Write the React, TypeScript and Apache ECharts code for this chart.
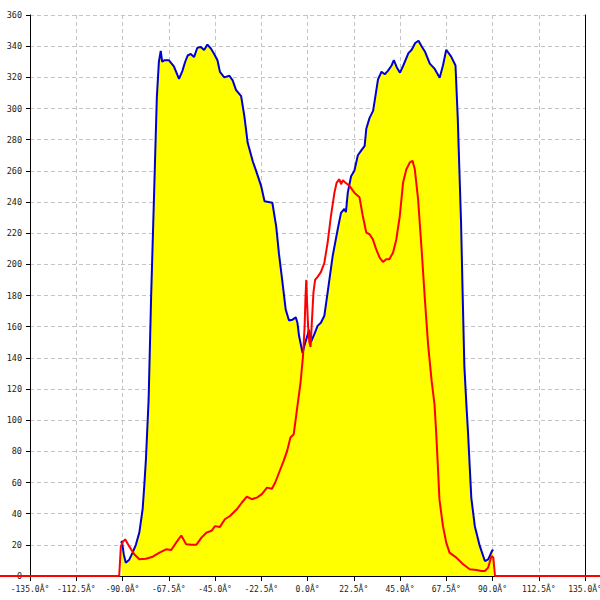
import React, { useEffect, useRef } from "react";
import * as echarts from "echarts";

const xTickLabels = [
  "-135.0Â°", "-112.5Â°", "-90.0Â°", "-67.5Â°", "-45.0Â°", "-22.5Â°", "0.0Â°",
  "22.5Â°", "45.0Â°", "67.5Â°", "90.0Â°", "112.5Â°", "135.0Â°",
];

const blueAngles = [
  -90.6, -90.3, -89.4, -88.4, -86.7, -85.1, -83.5, -81.8, -80.2, -79.4, -78.6, -77.3,
  -76.1, -74.7, -73.3, -72.3, -71.4, -70.7, -69.5, -67.5, -65, -62.5, -60.9, -59.5,
  -58.3, -56.8, -55.2, -53.6, -51.9, -50.3, -48.7, -47, -45.4, -43.8, -42.6, -40.5,
  -38, -36.4, -34.8, -32.3, -30.7, -29.1, -26.6, -25, -22.5, -20.9, -19, -17.1,
  -15.2, -13.9, -12.5, -10.6, -9, -7.3, -5.7, -4.9, -4.1, -2.4, -1.6, 0.8,
  1.6, 3.3, 4.9, 6.5, 8.2, 9.8, 12.2, 14.7, 16.3, 17.9, 18.7, 19.6,
  21.2, 22.8, 24.5, 26.1, 27.8, 28.6, 30.2, 31.9, 32.7, 34.3, 36, 37.6,
  39.2, 40.9, 42, 43.4, 45, 46.6, 49.1, 50.7, 52.4, 54, 55.5, 57.1,
  59.5, 61.9, 64.3, 65.9, 67.5, 69.9, 72, 73.1, 73.9, 74.7, 75.5, 76.3,
  77.3, 78.1, 78.9, 79.7, 81.4, 83.8, 86.3, 87.9, 90, 90.3,
];
const blueValues = [
  21, 22.5, 14, 8.5, 10.5, 15, 20, 28, 43, 58, 75, 113,
  178, 242, 307, 330, 337, 330, 331, 331, 327, 319, 324, 330,
  334, 335, 333, 339, 339.5, 337.5, 341, 338.5, 335, 331, 323.5, 320,
  321, 318, 312, 308, 295, 278, 266, 260, 250, 240.5, 240, 239.5,
  224, 207, 192, 171, 164, 164.5, 166, 162.5, 154, 143, 147.5, 158,
  150, 155, 160.5, 162.5, 167, 182, 205, 222.5, 233, 235.5, 233.5, 246,
  256.5, 260, 270, 273, 276, 287, 294, 298.5, 305, 318.7, 323.6, 322,
  324.3, 327.6, 331, 326.5, 323, 327.6, 335.5, 337.7, 342, 343.5, 340, 336.6,
  328.8, 325.4, 319.8, 327.6, 337.7, 333.3, 327.6, 294, 260, 227, 180, 135,
  110, 92, 70.7, 50, 32, 19.3, 9.6, 10.7, 16.7, 16,
];

const redAngles = [
  -150, -91.6, -90.8, -89.8, -88.7, -86.7, -84.3, -81.8, -78.6, -75.3, -72, -68.8,
  -66.3, -63.9, -61.4, -59, -56.5, -54.1, -51.6, -49.2, -46.7, -45, -42.6, -40.2,
  -37.7, -34.4, -32, -29.5, -27.1, -24.6, -22.2, -19.7, -17.3, -15.7, -13.2, -11.6,
  -9.9, -8.3, -6.7, -5, -3.4, -2.2, -1.4, -1, -0.6, -0.2, 0.3, 0.9,
  1.5, 2.2, 2.9, 3.7, 4.9, 6.5, 8.2, 9.8, 11.4, 13.1, 14.2, 15.5,
  16.3, 17.2, 17.9, 20.4, 22.8, 25.3, 26.9, 28.6, 30.2, 31.8, 33.4, 35.1,
  36.7, 38.3, 39.8, 41.6, 43.2, 44.9, 46.5, 48.1, 49.8, 51.1, 52.2, 53.8,
  55.5, 57.1, 58.7, 60.4, 61.8, 62.6, 63.4, 64.2, 65.9, 67.5, 69.1, 72.4,
  75.7, 78.9, 82.2, 84.6, 86.3, 87.9, 89.5, 90.4, 91.2, 150,
];
const redValues = [
  0, 0, 19, 22, 23.5, 19, 14, 10.7, 11.1, 12.4, 15, 17.1,
  16.7, 21.4, 26, 20.3, 20, 20, 24.6, 27.8, 29, 32, 31.5, 36.4,
  38.5, 42.8, 47, 51, 49.3, 50.3, 52.5, 56.7, 56, 60, 68.5, 73.9,
  80.3, 88.9, 91, 108, 124, 141, 160, 178, 190, 175, 160, 150,
  147, 165, 182, 190, 192, 195, 201, 214, 231, 246, 252.5, 254.6,
  251.4, 254, 253, 250.4, 246, 243, 231, 220.4, 219.3, 216, 209.7, 204.3,
  201.5, 203.3, 203.3, 207.5, 216, 231, 252.5, 261, 265.4, 266.4, 261, 241.8,
  209.7, 177.6, 148, 125, 110, 92, 71, 49, 32, 21.4, 15, 11.8,
  7.5, 4.3, 3.9, 3.2, 3.2, 5.4, 12.8, 11.8, 0, 0,
];

// plot area geometry
const PLOT_LEFT = 30;
const PLOT_TOP = 15;
const PLOT_W = 555;
const PLOT_H = 561;
const X_MIN = -135;
const X_MAX = 135;
const PX_PER_DEG = PLOT_W / (X_MAX - X_MIN);

export default function App() {
  const ref = useRef<HTMLDivElement>(null);
  useEffect(() => {
    document.body.style.margin = "0";
    if (!ref.current) return;
    const chart = echarts.init(ref.current, undefined, { renderer: "svg", width: 600, height: 600 });
    const font = "DejaVu Sans Mono";
    // full-width grid for the red trace (it runs past the plot frame to both page edges)
    const fullMin = X_MIN - PLOT_LEFT / PX_PER_DEG;
    const fullMax = X_MAX + (600 - PLOT_LEFT - PLOT_W) / PX_PER_DEG;
    chart.setOption({
      animation: false,
      backgroundColor: "#ffffff",
      grid: [
        { left: PLOT_LEFT, top: PLOT_TOP, width: PLOT_W, height: PLOT_H, containLabel: false, outerBoundsMode: "none" },
        { left: 0, top: PLOT_TOP, width: 600, height: PLOT_H, containLabel: false, outerBoundsMode: "none" },
      ],
      xAxis: [
        {
          type: "value",
          gridIndex: 0,
          min: X_MIN,
          max: X_MAX,
          interval: 22.5,
          axisLine: { show: true, onZero: false, lineStyle: { color: "#000", width: 1 } },
          axisTick: { show: true, length: 5, lineStyle: { color: "#000" } },
          axisLabel: {
            color: "#222",
            fontFamily: font,
            fontSize: 8,
            margin: 9,
            showMinLabel: true,
            showMaxLabel: true,
            hideOverlap: false,
            formatter: (v: number) => xTickLabels[Math.round((v - X_MIN) / 22.5)] ?? "",
          },
          splitLine: { show: true, lineStyle: { color: "#c4c4c4", type: [4, 3], width: 1 } },
        },
        {
          type: "value",
          gridIndex: 1,
          min: fullMin,
          max: fullMax,
          show: false,
          splitLine: { show: false },
        },
      ],
      yAxis: [
        {
          type: "value",
          gridIndex: 0,
          min: 0,
          max: 360,
          interval: 20,
          axisLine: { show: true, onZero: false, lineStyle: { color: "#000", width: 1 } },
          axisTick: { show: true, length: 4, lineStyle: { color: "#000" } },
          axisLabel: { color: "#222", fontFamily: font, fontSize: 8.5, margin: 8 },
          splitLine: { show: true, lineStyle: { color: "#c4c4c4", type: [4, 3], width: 1 } },
        },
        {
          type: "value",
          gridIndex: 0,
          min: 0,
          max: 360,
          interval: 20,
          position: "right",
          axisLine: { show: true, onZero: false, lineStyle: { color: "#000", width: 1 } },
          axisTick: { show: false },
          axisLabel: { show: false },
          splitLine: { show: false },
        },
        {
          type: "value",
          gridIndex: 1,
          min: 0,
          max: 360,
          show: false,
          splitLine: { show: false },
        },
      ],
      series: [
        {
          type: "line",
          xAxisIndex: 0,
          yAxisIndex: 0,
          data: blueAngles.map((a, i) => [a, blueValues[i]]),
          showSymbol: false,
          symbol: "none",
          lineStyle: { color: "#0000d0", width: 2 },
          itemStyle: { color: "#0000d0" },
          areaStyle: { color: "#ffff00", opacity: 1 },
          z: 2,
        },
        {
          type: "line",
          xAxisIndex: 1,
          yAxisIndex: 2,
          data: redAngles.map((a, i) => [a, redValues[i]]),
          showSymbol: false,
          symbol: "none",
          lineStyle: { color: "#ff0000", width: 2 },
          itemStyle: { color: "#ff0000" },
          z: 3,
        },
      ],
    });
    return () => chart.dispose();
  }, []);
  return <div ref={ref} style={{ width: 600, height: 600, background: "#fff" }} />;
}
